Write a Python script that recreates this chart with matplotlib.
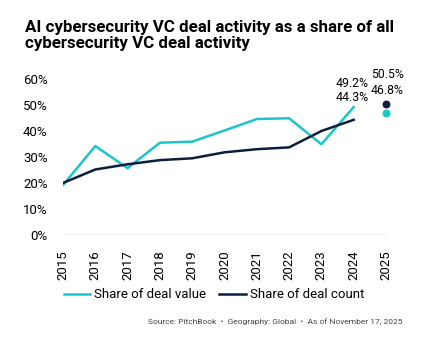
import numpy as np
import matplotlib.pyplot as plt

plt.rcParams['font.family'] = ['Roboto', 'DejaVu Sans']

years = [2015, 2016, 2017, 2018, 2019, 2020, 2021, 2022, 2023, 2024]
deal_value = [19.2, 34.2, 25.7, 35.5, 35.9, 40.2, 44.6, 44.9, 34.9, 49.2]
deal_count = [20.0, 25.2, 27.2, 28.8, 29.5, 31.8, 33.0, 33.7, 40.0, 44.3]
ytd_year = 2025
ytd_value = 46.8
ytd_count = 50.5

cyan = '#1cc5c9'
navy = '#0b1f3d'

fig = plt.figure(figsize=(4.43, 3.58), dpi=100)
ax = fig.add_axes([63/443, 1 - 235/358, (386 - 63)/443, (235 - 79)/358])

ax.plot(years, deal_value, color=cyan, lw=1.8, label='Share of deal value')
ax.plot(years, deal_count, color=navy, lw=1.8, label='Share of deal count')
ax.scatter([ytd_year], [ytd_value], color=cyan, s=22, zorder=3, clip_on=False)
ax.scatter([ytd_year], [ytd_count], color=navy, s=22, zorder=3, clip_on=False)

# labels for the last points, stacked
lab = dict(textcoords='offset points', ha='center', va='bottom', fontsize=8.8)
ax.annotate(f'{deal_value[-1]:.1f}%', (years[-1], deal_value[-1]), xytext=(-1, 12), **lab)
ax.annotate(f'{deal_count[-1]:.1f}%', (years[-1], deal_value[-1]), xytext=(-1, 2), **lab)
ax.annotate(f'{ytd_count:.1f}%', (ytd_year, ytd_count), xytext=(1, 16), **lab)
ax.annotate(f'{ytd_value:.1f}%', (ytd_year, ytd_count), xytext=(1, 5), **lab)

ax.set_xlim(2015, 2025)
ax.set_ylim(0, 60)
ax.set_xticks(years + [ytd_year])
ax.set_xticklabels([str(y) for y in years + [ytd_year]], rotation=90, fontsize=9.5)
ax.set_yticks(np.arange(0, 61, 10))
ax.set_yticklabels([f'{v}%' for v in range(0, 61, 10)], fontsize=9.5)
ax.tick_params(axis='y', length=0, pad=11)
ax.tick_params(axis='x', length=0, pad=11)
for s in ax.spines.values():
    s.set_visible(False)
ax.axhline(0, color='#bdbab2', lw=1)

fig.text(25/443, 1 - 20/358, 'AI cybersecurity VC deal activity as a share of all\ncybersecurity VC deal activity',
         fontsize=12.2, fontweight='bold', ha='left', va='top', linespacing=1.1)

fig.legend(loc='center', bbox_to_anchor=(214/443, 1 - 295/358), ncol=2, frameon=False,
           fontsize=9.5, handlelength=2.0, handletextpad=0.3, columnspacing=1.0)

fig.text(403/443, 1 - 322/358, 'Source: PitchBook  \u2022  Geography: Global  \u2022  As of November 17, 2025',
         fontsize=6.0, color='#444444', ha='right', va='center')

fig.savefig('out.png', dpi=100)
